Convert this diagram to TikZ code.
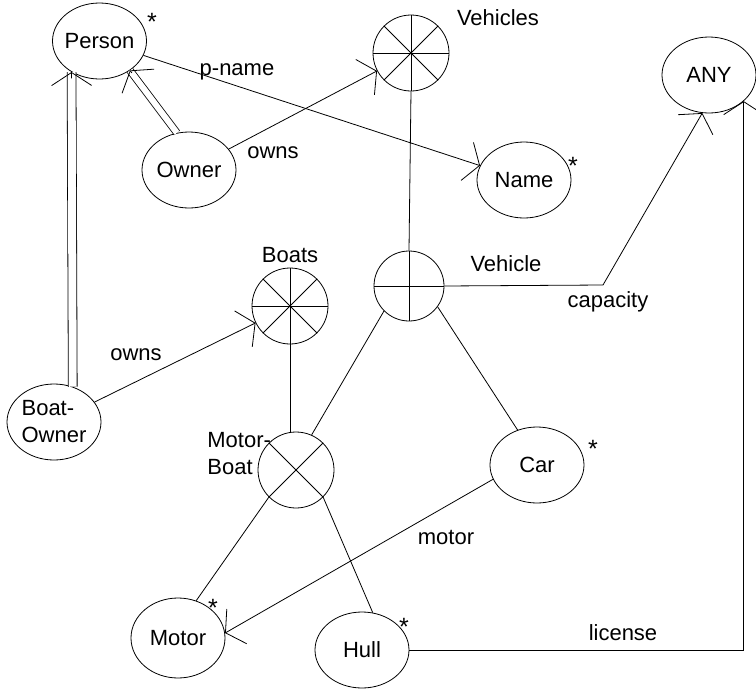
\documentclass[tikz,border=0pt]{standalone}
\usepackage{fontspec}
\setmainfont{Liberation Sans}
\usetikzlibrary{shapes.geometric,arrows.meta}

\tikzset{
  entity/.style={draw, ellipse, minimum width=94pt, minimum height=76pt, inner sep=-3pt, align=left},
  setnode/.style={draw, circle, minimum size=76pt, inner sep=0pt},
  rel/.style={-{Straight Barb[length=13pt,width=40pt]}},
  isa/.style={double, double distance=6pt},
  lbl/.style={inner sep=0pt},
  star/.style={inner sep=0pt, font=\fontsize{25}{27}\selectfont}
}

\begin{document}
\begin{tikzpicture}[x=1pt, y=-1pt, line width=0.8pt, font=\fontsize{22}{27}\selectfont]
  \useasboundingbox (0,0) rectangle (756,691);

  % entity types
  \node[entity] (person) at (99.5,41) {Person};
  \node[entity] (owner) at (189,170) {Owner};
  \node[entity] (name) at (524,180) {Name};
  \node[entity] (any) at (709,75) {ANY};
  \node[entity] (car) at (537,465) {Car};
  \node[entity, minimum height=80pt] (motor) at (178,638) {Motor};
  \node[entity] (hull) at (362,650) {Hull};
  \node[entity] (boatowner) at (54,422) {Boat-\\Owner};

  % sets and unions
  \node[setnode] (vehicles) at (411,53) {};
  \node[setnode] (boats) at (290,306) {};
  \node[setnode, minimum size=70pt] (vehicle) at (409,286) {};
  \node[setnode] (mboat) at (296,470) {};
  \foreach \a in {0,45,...,315} \draw (vehicles.center) -- (vehicles.\a);
  \foreach \a in {0,45,...,315} \draw (boats.center) -- (boats.\a);
  \foreach \a in {0,90,180,270} \draw (vehicle.center) -- (vehicle.\a);
  \foreach \a in {45,135,225,315} \draw (mboat.center) -- (mboat.\a);

  % names
  \node[lbl] (vehiclesLbl) at (498,18) {Vehicles};
  \node[lbl] (boatsLbl) at (290,255) {Boats};
  \node[lbl, anchor=west, align=left] (mboatLbl) at (207,454) {Motor-\\Boat};

  % stars
  \node[star] (personStar) at (152,22) {*};
  \node[star] (nameStar) at (573,166) {*};
  \node[star] (carStar) at (593,449) {*};
  \node[star] (motorStar) at (213,608) {*};
  \node[star] (hullStar) at (404,627) {*};

  % is-a links
  \draw[isa] (owner.108) -- (person.-44);
  \path (owner.108) -- (person.-44) coordinate[pos=0.96] (ownerTip);
  \draw[rel] (ownerTip) -- (person.-44);
  \draw[isa, double distance=8pt] (boatowner.62) -- (person.228);
  \path (boatowner.62) -- (person.228) coordinate[pos=0.98] (boTip);
  \draw[rel] (boTip) -- (person.228);

  % attributes
  \draw[rel] (person) -- (name);
  \node[lbl] (pnameLbl) at (237,72) {p-name};
  \draw[rel] (owner) -- (vehicles);
  \node[lbl] (ownsLbl) at (273,153) {owns};
  \draw[rel] (boatowner) -- (boats);
  \node[lbl] (bownsLbl) at (136,355) {owns};

  \coordinate (capBend) at (603,285);
  \draw[rel] (vehicle.east) -- (capBend) -- (any.260);
  \node[lbl] (vehicleLbl) at (506,264) {Vehicle};
  \node[lbl] (capLbl) at (608,302) {capacity};

  \draw[rel] (hull.east) -| (any.323);
  \node[lbl] (licLbl) at (623,633) {license};

  \draw[rel] (car.198) -- (motor.6);
  \node[lbl] (motorLbl) at (446,537) {motor};

  % hierarchy
  \draw (vehicles.south) -- (vehicle.north);
  \draw (vehicle.225) -- (mboat.66);
  \draw (vehicle.-36) -- (car.119);
  \draw (boats.south) -- (boats.south |- mboat.north);
  \draw (mboat.225) -- (motor.64);
  \draw (mboat.-45) -- (hull.74);
\end{tikzpicture}
\end{document}
